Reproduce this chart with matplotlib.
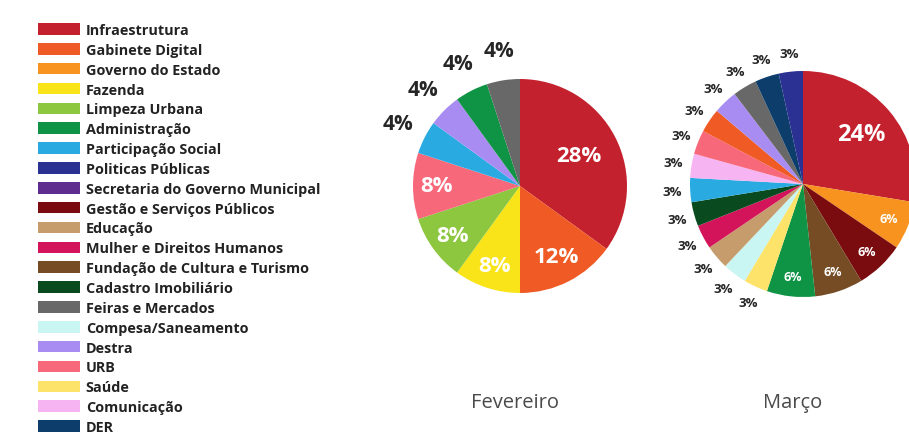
import numpy as np
import matplotlib.pyplot as plt
from matplotlib.patches import Patch

# legend categories and colours
categorias = ["Infraestrutura", "Gabinete Digital", "Governo do Estado", "Fazenda",
              "Limpeza Urbana", "Administração", "Participação Social", "Politicas Públicas",
              "Secretaria do Governo Municipal", "Gestão e Serviços Públicos", "Educação",
              "Mulher e Direitos Humanos", "Fundação de Cultura e Turismo",
              "Cadastro Imobiliário", "Feiras e Mercados", "Compesa/Saneamento",
              "Destra", "URB", "Saúde", "Comunicação", "DER"]
cores = ["#c4212e", "#f05a24", "#f7931e", "#f9e41a", "#8dc63f", "#0f9445", "#29abe2",
         "#2b3192", "#5e2c8f", "#7a0c10", "#c69c6d", "#d4145a", "#754c24", "#0a4a1f",
         "#686868", "#c9f5f3", "#a98cf2", "#f7687a", "#fde36a", "#f6b4f2", "#0d3e6b"]
cor = dict(zip(categorias, cores))

# Fevereiro
fev_cat = ["Infraestrutura", "Gabinete Digital", "Fazenda", "Limpeza Urbana", "URB",
           "Participação Social", "Destra", "Administração", "Feiras e Mercados"]
fev_pct = [28, 12, 8, 8, 8, 4, 4, 4, 4]

# Março
mar_cat = ["Infraestrutura", "Governo do Estado", "Gestão e Serviços Públicos",
           "Fundação de Cultura e Turismo", "Administração", "Saúde", "Compesa/Saneamento",
           "Educação", "Mulher e Direitos Humanos", "Cadastro Imobiliário",
           "Participação Social", "Comunicação", "URB", "Gabinete Digital", "Destra",
           "Feiras e Mercados", "DER", "Politicas Públicas"]
mar_pct = [24, 6, 6, 6, 6, 3, 3, 3, 3, 3, 3, 3, 3, 3, 3, 3, 3, 3]

plt.rcParams['font.family'] = ['Open Sans', 'DejaVu Sans']

W, H = 909, 439
fig = plt.figure(figsize=(W / 100, H / 100), dpi=100)


def pie_axes(cx, cy, r):
    return fig.add_axes([(cx - r) / W, (H - cy - r) / H, 2 * r / W, 2 * r / H])


def draw_pie(ax, cats, pcts, inner, outer):
    wedges, _ = ax.pie(pcts, colors=[cor[c] for c in cats], startangle=90,
                       counterclock=False, radius=1)
    ax.set_xlim(-1, 1)
    ax.set_ylim(-1, 1)
    for w, p in zip(wedges, pcts):
        ang = np.deg2rad((w.theta1 + w.theta2) / 2)
        if p in inner:
            d, size = inner[p]
            col = "white"
        else:
            d, size = outer
            col = "#262626"
        ax.text(d * np.cos(ang), d * np.sin(ang), f"{p}%", color=col,
                fontsize=size, fontweight="bold", ha="center", va="center")


ax1 = pie_axes(520, 187, 107)
draw_pie(ax1, fev_cat, fev_pct, {28: (0.62, 16), 12: (0.74, 16), 8: (0.78, 16)},
         (1.28, 15))

ax2 = pie_axes(803, 185, 113)
draw_pie(ax2, mar_cat, mar_pct, {24: (0.68, 17), 6: (0.82, 9)}, (1.16, 9.5))

fig.text(515 / W, 1 - 403 / H, "Fevereiro", ha="center", va="center",
         fontsize=14.5, color="#4a4a4a")
fig.text(793 / W, 1 - 403 / H, "Março", ha="center", va="center",
         fontsize=14.5, color="#4a4a4a")

handles = [Patch(facecolor=c, edgecolor="none") for c in cores]
leg = fig.legend(handles, categorias, loc="upper left",
                 bbox_to_anchor=(38 / W, 1 - 24 / H), frameon=False,
                 handlelength=2.9, handleheight=0.85, handletextpad=0.4,
                 labelspacing=0.405, borderaxespad=0, borderpad=0,
                 prop={"weight": "bold", "size": 10.4})
for t in leg.get_texts():
    t.set_color("#222222")

fig.savefig("out.png", dpi=100)
